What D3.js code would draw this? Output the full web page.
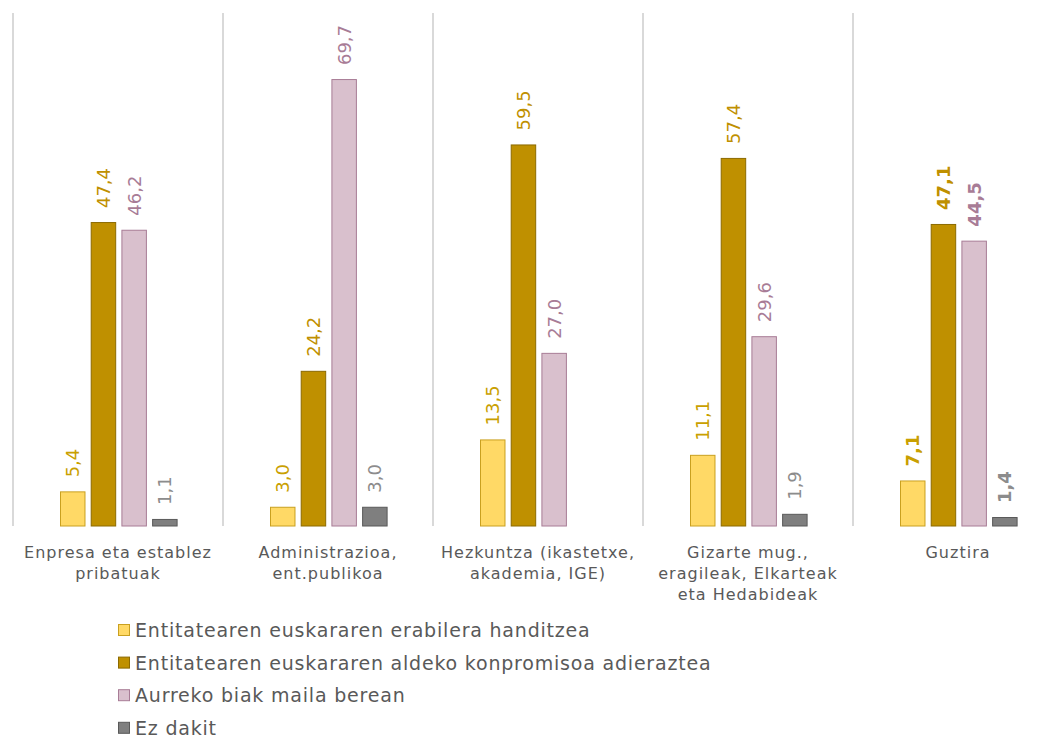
<!DOCTYPE html>
<html>
<head>
<meta charset="utf-8">
<script src="https://cdn.jsdelivr.net/npm/d3@7"></script>
<style>
  html, body { margin: 0; padding: 0; background: #ffffff; }
  svg { display: block; font-family: "DejaVu Sans", sans-serif; }
</style>
</head>
<body>
<svg id="chart" width="1051" height="738"></svg>
<script>
const categories = [
  ["Enpresa eta establez", "pribatuak"],
  ["Administrazioa,", "ent.publikoa"],
  ["Hezkuntza (ikastetxe,", "akademia, IGE)"],
  ["Gizarte mug.,", "eragileak, Elkarteak", "eta Hedabideak"],
  ["Guztira"]
];
const seriesNames = [
  "Entitatearen euskararen erabilera handitzea",
  "Entitatearen euskararen aldeko konpromisoa adieraztea",
  "Aurreko biak maila berean",
  "Ez dakit"
];
const handitzea = [5.4, 3.0, 13.5, 11.1, 7.1];
const konpromisoa = [47.4, 24.2, 59.5, 57.4, 47.1];
const biak = [46.2, 69.7, 27.0, 29.6, 44.5];
const ezDakit = [1.1, 3.0, null, 1.9, 1.4];
const seriesValues = [handitzea, konpromisoa, biak, ezDakit];

const fills = ["#FFD966", "#BF9000", "#D9C0CD", "#7F7F7F"];
const strokes = ["#C9A020", "#8C6A00", "#A87C96", "#595959"];
const labelColors = ["#C9A000", "#BF9000", "#A87C96", "#8C8C8C"];

const svg = d3.select("#chart");
const plotLeft = 13, plotRight = 1063, plotTop = 13, baseline = 526;

const x0 = d3.scaleBand().domain(d3.range(categories.length)).range([plotLeft, plotRight]).padding(0);
const x1 = d3.scaleBand().domain(d3.range(seriesNames.length)).range([47, 164.6]).paddingInner(0.17).paddingOuter(0);
const y = d3.scaleLinear().domain([0, 80]).range([baseline, plotTop]);

// separators
svg.append("g").selectAll("line")
  .data(d3.range(categories.length))
  .join("line")
  .attr("x1", i => x0(i)).attr("x2", i => x0(i))
  .attr("y1", plotTop).attr("y2", baseline)
  .attr("stroke", "#D9D9D9").attr("stroke-width", 2);

const groups = svg.append("g").selectAll("g")
  .data(categories.map((c, i) => i))
  .join("g")
  .attr("transform", i => `translate(${x0(i)},0)`);

groups.each(function(ci) {
  const g = d3.select(this);
  seriesValues.forEach((vals, si) => {
    const v = vals[ci];
    if (v == null) return;
    g.append("rect")
      .attr("x", x1(si) + 0.5)
      .attr("y", y(v) + 0.5)
      .attr("width", x1.bandwidth() - 1)
      .attr("height", Math.max(0, baseline - y(v) - 0.5))
      .attr("fill", fills[si])
      .attr("stroke", strokes[si])
      .attr("stroke-width", 1);
    const cx = x1(si) + x1.bandwidth() / 2;
    const ty = y(v) - 14;
    g.append("text")
      .attr("transform", `translate(${cx + 6.5},${ty}) rotate(-90)`)
      .attr("text-anchor", "start")
      .attr("font-size", 18)
      .attr("font-weight", ci === categories.length - 1 ? "bold" : "normal")
      .attr("fill", labelColors[si])
      .text(v.toFixed(1).replace(".", ","));
  });
  const lines = categories[ci];
  g.append("text")
    .attr("x", x0.bandwidth() / 2)
    .attr("y", 558)
    .attr("text-anchor", "middle")
    .attr("font-size", 16)
    .attr("letter-spacing", 1)
    .attr("fill", "#595959")
    .selectAll("tspan")
    .data(lines)
    .join("tspan")
    .attr("x", x0.bandwidth() / 2)
    .attr("dy", (d, i) => i === 0 ? 0 : 21)
    .text(d => d);
});

// legend
const legend = svg.append("g");
seriesNames.forEach((name, i) => {
  const ly = 630 + i * 32.6;
  legend.append("rect")
    .attr("x", 118.5).attr("y", ly - 5.5)
    .attr("width", 11).attr("height", 11)
    .attr("fill", fills[i]).attr("stroke", strokes[i]).attr("stroke-width", 1);
  legend.append("text")
    .attr("x", 135).attr("y", ly + 7)
    .attr("font-size", 19)
    .attr("letter-spacing", 0.8)
    .attr("fill", "#595959")
    .text(name);
});
</script>
</body>
</html>
